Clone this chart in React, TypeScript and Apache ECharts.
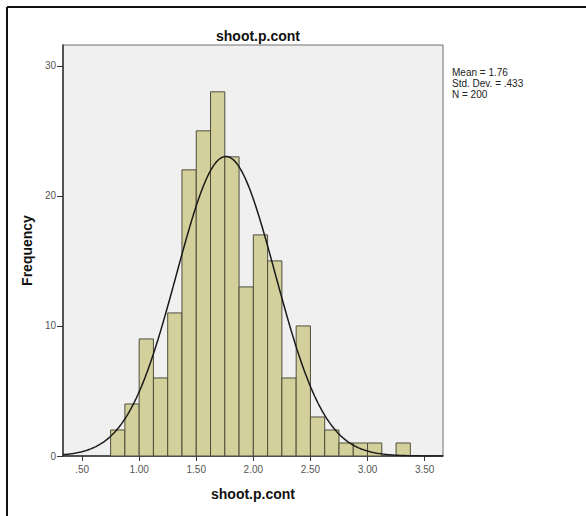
import React, { useEffect, useRef } from "react";
import * as echarts from "echarts";

const binStarts = [0.75, 0.875, 1.0, 1.125, 1.25, 1.375, 1.5, 1.625, 1.75, 1.875, 2.0, 2.125, 2.25, 2.375, 2.5, 2.625, 2.75, 2.875, 3.0, 3.125, 3.25];
const counts = [2, 4, 9, 6, 11, 22, 25, 28, 23, 13, 17, 15, 6, 10, 3, 2, 1, 1, 1, 0, 1];
const binWidth = 0.125;
const xTicks = [0.5, 1.0, 1.5, 2.0, 2.5, 3.0, 3.5];
const yTicks = [0, 10, 20, 30];
const statsLines = ["Mean = 1.76", "Std. Dev. = .433", "N = 200"];
const mean = 1.76;
const sd = 0.433;
const n = 200;
const xMin = 0.333;
const xMax = 3.661;
const yMax = 31.6;

const FONT = "Arial, 'Liberation Sans', sans-serif";

function normalCurve(): number[][] {
  const pts: number[][] = [];
  const steps = 300;
  for (let i = 0; i <= steps; i++) {
    const x = xMin + ((xMax - xMin) * i) / steps;
    const z = (x - mean) / sd;
    const y = (n * binWidth) / (sd * Math.sqrt(2 * Math.PI)) * Math.exp(-0.5 * z * z);
    pts.push([x, y]);
  }
  return pts;
}

export default function App() {
  const ref = useRef<HTMLDivElement>(null);
  useEffect(() => {
    document.body.style.margin = "0";
    const chart = echarts.init(ref.current!, null, { renderer: "svg" });
    const barData = binStarts.map((s, i) => [s, s + binWidth, counts[i]]);
    chart.setOption({
      animation: false,
      backgroundColor: "#ffffff",
      textStyle: { fontFamily: FONT },
      title: {
        text: "shoot.p.cont",
        left: 253,
        top: 24,
        textAlign: "center",
        textStyle: { fontFamily: FONT, fontSize: 14, fontWeight: "bold", color: "#111" },
      },
      grid: {
        left: 63,
        top: 45,
        width: 380,
        height: 411,
        show: true,
        backgroundColor: "#f0f0f0",
        borderColor: "#707070",
        borderWidth: 1,
      },
      xAxis: {
        type: "value",
        min: xMin,
        max: xMax,
        name: "shoot.p.cont",
        nameLocation: "middle",
        nameGap: 31,
        nameTextStyle: { fontFamily: FONT, fontSize: 14, fontWeight: "bold", color: "#111" },
        axisLine: { show: true, lineStyle: { color: "#333", width: 1.5 } },
        axisTick: { show: true, inside: false, length: 5, customValues: xTicks, lineStyle: { color: "#333" } },
        axisLabel: {
          customValues: xTicks,
          margin: 8,
          fontFamily: FONT,
          fontSize: 10,
          color: "#555",
          formatter: (v: number) => (v < 1 ? "." + v.toFixed(2).split(".")[1] : v.toFixed(2)),
        },
        splitLine: { show: false },
      },
      yAxis: {
        type: "value",
        min: 0,
        max: yMax,
        name: "Frequency",
        nameLocation: "middle",
        nameGap: 21,
        nameTextStyle: { fontFamily: FONT, fontSize: 14, fontWeight: "bold", color: "#111" },
        axisLine: { show: true, lineStyle: { color: "#333", width: 1.5 } },
        axisTick: { show: true, inside: false, length: 6, customValues: yTicks, lineStyle: { color: "#333" } },
        axisLabel: { customValues: yTicks, inside: false, margin: 7, fontFamily: FONT, fontSize: 10, color: "#555" },
        splitLine: { show: false },
      },
      graphic: [
        { type: "line", shape: { x1: 7, y1: 7, x2: 586, y2: 7 }, style: { stroke: "#111", lineWidth: 2 } },
        { type: "line", shape: { x1: 7, y1: 7, x2: 7, y2: 516 }, style: { stroke: "#111", lineWidth: 2 } },
        {
          type: "text",
          left: 452,
          top: 67,
          style: {
            text: statsLines.join("\n"),
            fontFamily: FONT,
            fontSize: 10,
            lineHeight: 11,
            fill: "#222",
          },
        },
      ],
      series: [
        {
          type: "custom",
          data: barData,
          encode: { x: [0, 1], y: 2 },
          renderItem: (params: any, api: any) => {
            const x0 = api.value(0);
            const x1 = api.value(1);
            const c = api.value(2);
            if (!c) return null;
            const p0 = api.coord([x0, c]);
            const p1 = api.coord([x1, 0]);
            return {
              type: "rect",
              shape: { x: p0[0], y: p0[1], width: p1[0] - p0[0], height: p1[1] - p0[1] },
              style: { fill: "#d4d09b", stroke: "#4e4d3c", lineWidth: 1 },
            };
          },
          z: 2,
        },
        {
          type: "line",
          data: normalCurve(),
          showSymbol: false,
          smooth: false,
          lineStyle: { color: "#1a1a1a", width: 1.5 },
          z: 3,
        },
      ],
    });
    return () => chart.dispose();
  }, []);
  return <div ref={ref} style={{ width: 586, height: 516 }} />;
}
